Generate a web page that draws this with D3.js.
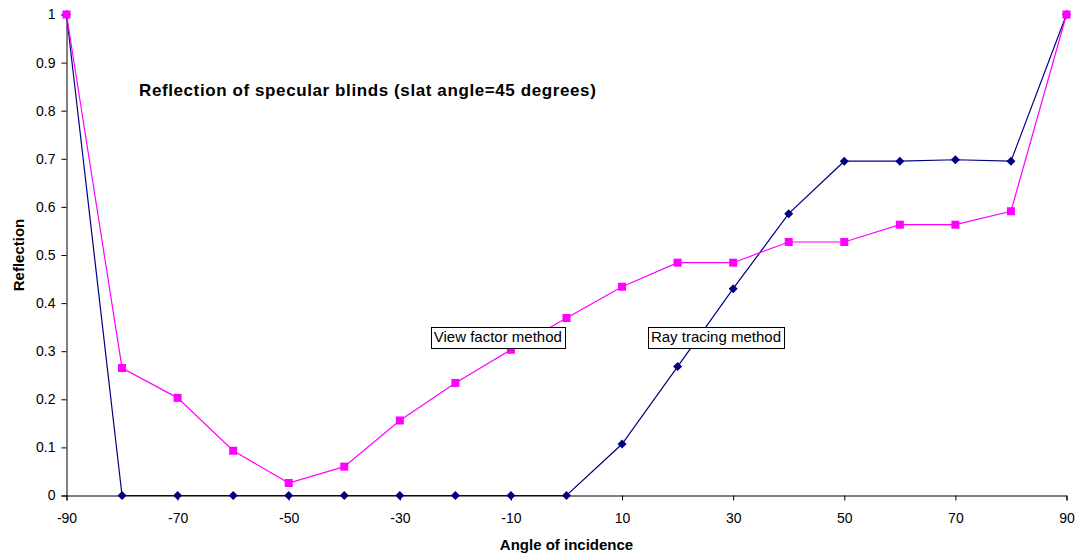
<!DOCTYPE html>
<html>
<head>
<meta charset="utf-8">
<script src="https://cdn.jsdelivr.net/npm/d3@7"></script>
<style>
  html, body { margin: 0; padding: 0; background: #fff; }
  svg { display: block; font-family: "Liberation Sans", Arial, sans-serif; }
</style>
</head>
<body>
<svg id="chart"></svg>
<script>
const W = 1079;
const H = 555;

// ── Data ──────────────────────────────────────────────────────────────────────

const ANGLES = [-90, -80, -70, -60, -50, -40, -30, -20, -10, 0, 10, 20, 30, 40, 50, 60, 70, 80, 90];

const RAY_TRACING = [1, 0, 0, 0, 0, 0, 0, 0, 0, 0, 0.107, 0.268, 0.43, 0.586, 0.695, 0.695, 0.698, 0.695, 1];

const VIEW_FACTOR = [1, 0.265, 0.203, 0.093, 0.026, 0.06, 0.156, 0.234, 0.303, 0.369, 0.434, 0.484, 0.484, 0.527, 0.527, 0.563, 0.563, 0.591, 1];

const X_TICKS = [-90, -70, -50, -30, -10, 10, 30, 50, 70, 90];
const Y_TICKS = [0, 0.1, 0.2, 0.3, 0.4, 0.5, 0.6, 0.7, 0.8, 0.9, 1];

const TITLE   = 'Reflection of specular blinds (slat angle=45 degrees)';
const X_LABEL = 'Angle of incidence';
const Y_LABEL = 'Reflection';

const ANNOTATIONS = [
  { text: 'View factor method', x: -23.9, y: 0.33 },
  { text: 'Ray tracing method', x: 15.2,  y: 0.33 },
];

// ── Layout ────────────────────────────────────────────────────────────────────

const RAY_COLOR  = '#000080';
const VIEW_COLOR = '#ff00ff';

const x = d3.scaleLinear().domain([-90, 90]).range([66.5, 1066.5]);
const y = d3.scaleLinear().domain([0, 1]).range([495.5, 14.5]);

const svg = d3.select('#chart').attr('width', W).attr('height', H);

// ── Axes ──────────────────────────────────────────────────────────────────────

const xAxis = svg.append('g')
  .attr('transform', `translate(0,${y(0)})`)
  .call(d3.axisBottom(x).tickValues(X_TICKS).tickSize(5).tickPadding(13).tickFormat(d => String(d)));

const yAxis = svg.append('g')
  .attr('transform', `translate(${x(-90)},0)`)
  .call(d3.axisLeft(y).tickValues(Y_TICKS).tickSize(5).tickPadding(6).tickFormat(d => d === 0 || d === 1 ? d : d3.format('.1f')(d)));

[xAxis, yAxis].forEach(a => {
  a.select('.domain').attr('stroke', '#000').attr('stroke-width', 1);
  a.selectAll('.tick line').attr('stroke', '#000');
  a.selectAll('.tick text')
    .attr('fill', '#000')
    .style('font-size', '14px')
    .style('font-family', '"Liberation Sans", Arial, sans-serif');
});

// ── Series ────────────────────────────────────────────────────────────────────

const line = d3.line().x(d => x(d[0])).y(d => y(d[1]));

const raySeries  = ANGLES.map((a, i) => [a, RAY_TRACING[i]]);
const viewSeries = ANGLES.map((a, i) => [a, VIEW_FACTOR[i]]);

svg.append('path')
  .datum(raySeries)
  .attr('d', line)
  .attr('fill', 'none')
  .attr('stroke', RAY_COLOR)
  .attr('stroke-width', 1.2);

svg.append('g')
  .selectAll('path')
  .data(raySeries)
  .join('path')
  .attr('transform', d => `translate(${x(d[0])},${y(d[1])})`)
  .attr('d', 'M0,-4.5L4.5,0L0,4.5L-4.5,0Z')
  .attr('fill', RAY_COLOR);

svg.append('path')
  .datum(viewSeries)
  .attr('d', line)
  .attr('fill', 'none')
  .attr('stroke', VIEW_COLOR)
  .attr('stroke-width', 1.2);

svg.append('g')
  .selectAll('rect')
  .data(viewSeries)
  .join('rect')
  .attr('x', d => x(d[0]) - 4)
  .attr('y', d => y(d[1]) - 4)
  .attr('width', 8)
  .attr('height', 8)
  .attr('fill', VIEW_COLOR);

// ── Text ──────────────────────────────────────────────────────────────────────

svg.append('text')
  .attr('x', 139)
  .attr('y', 96)
  .style('font-size', '17px')
  .style('font-weight', 'bold')
  .style('letter-spacing', '0.6px')
  .text(TITLE);

svg.append('text')
  .attr('x', x(0))
  .attr('y', 550)
  .attr('text-anchor', 'middle')
  .style('font-size', '15px')
  .style('font-weight', 'bold')
  .text(X_LABEL);

svg.append('text')
  .attr('transform', 'translate(24,255) rotate(-90)')
  .attr('text-anchor', 'middle')
  .style('font-size', '15px')
  .style('font-weight', 'bold')
  .text(Y_LABEL);

ANNOTATIONS.forEach(a => {
  const g = svg.append('g');
  const t = g.append('text')
    .attr('x', x(a.x))
    .attr('y', y(a.y))
    .attr('dy', '0.36em')
    .style('font-size', '15px')
    .text(a.text);
  const b = t.node().getBBox();
  g.insert('rect', 'text')
    .attr('x', Math.round(b.x - 3) + 0.5)
    .attr('y', Math.round(y(a.y) - 10) + 0.5)
    .attr('width', Math.round(b.width + 6))
    .attr('height', 21)
    .attr('fill', '#fff')
    .attr('stroke', '#000')
    .attr('stroke-width', 1);
});
</script>
</body>
</html>
